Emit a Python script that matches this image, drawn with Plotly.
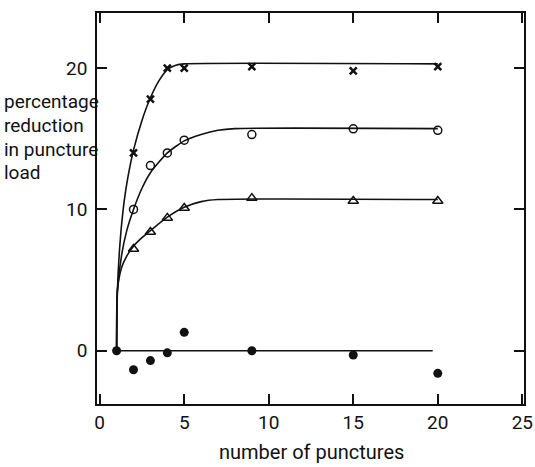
import plotly.graph_objects as go

# ---- data ----
cross_pts_x = [2, 3, 4, 5, 9, 15, 20]
cross_pts_y = [14.0, 17.8, 20.0, 20.0, 20.1, 19.8, 20.1]
circle_pts_x = [2, 3, 4, 5, 9, 15, 20]
circle_pts_y = [10.0, 13.1, 14.0, 14.9, 15.3, 15.7, 15.6]
tri_pts_x = [2, 3, 4, 5, 9, 15, 20]
tri_pts_y = [7.2, 8.4, 9.4, 10.1, 10.8, 10.6, 10.6]
dot_pts_x = [1, 2, 3, 4, 5, 9, 15, 20]
dot_pts_y = [0.0, -1.35, -0.7, -0.15, 1.3, 0.0, -0.3, -1.6]

# fitted curves
cross_curve_x = [1, 1.05, 1.2, 1.45, 1.7, 2.0, 2.5, 3.0, 3.5, 4.0, 4.5, 5.0, 20]
cross_curve_y = [0, 4.3, 7.6, 10.6, 12.5, 14.2, 16.3, 17.9, 19.1, 19.9, 20.2, 20.3, 20.3]
circle_curve_x = [1, 1.05, 1.3, 1.6, 2.0, 2.5, 3.0, 4.0, 5.0, 6.0, 7.0, 8.0, 20]
circle_curve_y = [0, 4.3, 6.8, 8.5, 10.0, 11.5, 12.6, 14.0, 14.85, 15.3, 15.6, 15.72, 15.72]
tri_curve_x = [1, 1.05, 1.3, 1.6, 2.0, 2.5, 3.0, 4.0, 5.0, 6.0, 7.0, 20]
tri_curve_y = [0, 4.3, 5.9, 6.7, 7.4, 8.0, 8.5, 9.45, 10.15, 10.55, 10.7, 10.7]
zero_line_x = [1, 19.7]
zero_line_y = [0, 0]

x_ticks = [0, 5, 10, 15, 20, 25]
y_ticks = [0, 10, 20]
x_title = "number of punctures"
y_title_lines = ["percentage", "reduction", "in puncture", "load"]

FONT = "Roboto, Lato, sans-serif"
INK = "#111111"

fig = go.Figure()

for cx, cy in [(cross_curve_x, cross_curve_y), (circle_curve_x, circle_curve_y),
               (tri_curve_x, tri_curve_y), (zero_line_x, zero_line_y)]:
    fig.add_trace(go.Scatter(x=cx, y=cy, mode="lines",
                             line=dict(color=INK, width=1.6, shape="spline", smoothing=0.6),
                             hoverinfo="skip", showlegend=False))

fig.add_trace(go.Scatter(x=cross_pts_x, y=cross_pts_y, mode="markers",
                         marker=dict(symbol="x-thin", size=7, line=dict(color=INK, width=2.5)),
                         showlegend=False))
fig.add_trace(go.Scatter(x=circle_pts_x, y=circle_pts_y, mode="markers",
                         marker=dict(symbol="circle-open", size=8, color=INK, line=dict(color=INK, width=1.5)),
                         showlegend=False))
fig.add_trace(go.Scatter(x=tri_pts_x, y=tri_pts_y, mode="markers",
                         marker=dict(symbol="triangle-up-open", size=9, color=INK, line=dict(color=INK, width=1.5)),
                         showlegend=False))
fig.add_trace(go.Scatter(x=dot_pts_x, y=dot_pts_y, mode="markers",
                         marker=dict(symbol="circle", size=9, color=INK),
                         showlegend=False))

axis_common = dict(showline=True, linecolor=INK, linewidth=1.5, mirror="allticks",
                   ticks="inside", ticklen=10, tickwidth=1.5, tickcolor=INK,
                   showgrid=False, zeroline=False, ticklabeloverflow="allow",
                   tickfont=dict(family=FONT, size=19, color=INK))

fig.update_xaxes(range=[-0.16, 25.1], tickvals=x_ticks, ticktext=[str(v) for v in x_ticks],
                 **axis_common)
fig.update_yaxes(range=[-3.77, 23.9], tickvals=y_ticks, ticktext=[str(v) for v in y_ticks],
                 ticklabelstandoff=4, **axis_common)

PW, PH = 436, 391
annotations = [dict(text=x_title, xref="paper", yref="paper", x=(316 - 97) / PW, y=-48 / PH,
                    xanchor="center", yanchor="middle", showarrow=False,
                    font=dict(family=FONT, size=20, color=INK))]
line_y_px = [101, 125, 149, 173]
for txt, ypx in zip(y_title_lines, line_y_px):
    annotations.append(dict(text=txt, xref="paper", yref="paper", x=-97 / PW,
                            y=1 - (ypx - 13) / PH, xanchor="left", yanchor="middle",
                            showarrow=False, font=dict(family=FONT, size=19, color=INK)))

fig.update_layout(width=535, height=467, margin=dict(l=97, r=2, t=13, b=63),
                  plot_bgcolor="white", paper_bgcolor="white",
                  annotations=annotations, showlegend=False)

fig.write_html("out.html")
